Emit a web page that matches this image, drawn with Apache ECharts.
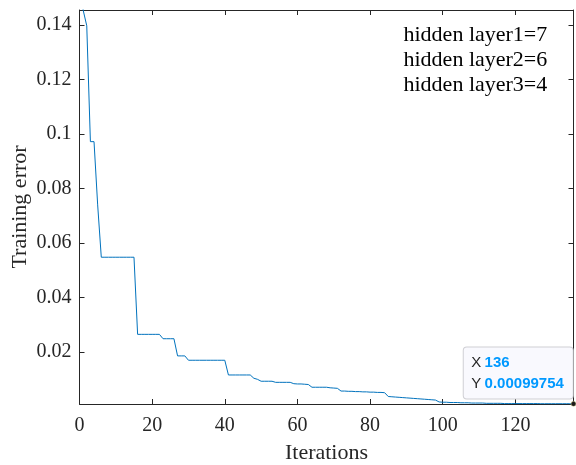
<!DOCTYPE html>
<html>
<head>
<meta charset="utf-8">
<script src="https://cdn.jsdelivr.net/npm/echarts@6/dist/echarts.min.js"></script>
<style>html,body{margin:0;padding:0;background:#fff}#c{width:576px;height:465px}</style>
</head>
<body>
<div id="c"></div>
<script>
// ---- data ----
const iterations = [];
for (let i = 0; i <= 136; i++) iterations.push(i);
const trainingError = [
  0.1600, 0.1455, 0.1397, 0.0972, 0.0972, 0.0740,
  0.0548, 0.0548, 0.0548, 0.0548, 0.0548, 0.0548, 0.0548, 0.0548, 0.0548, 0.0548,
  0.0265, 0.0265, 0.0265, 0.0265, 0.0265, 0.0265, 0.0265,
  0.0249, 0.0249, 0.0249, 0.0249,
  0.0186, 0.0186, 0.0186,
  0.0170, 0.0170, 0.0170, 0.0170, 0.0170, 0.0170, 0.0170, 0.0170, 0.0170, 0.0170, 0.0170,
  0.0116, 0.0116, 0.0116, 0.0116, 0.0116, 0.0116, 0.0116,
  0.0104, 0.0100,
  0.0093, 0.0093, 0.0093, 0.0093,
  0.0089, 0.0089, 0.0089, 0.0089, 0.0089,
  0.0084, 0.0083, 0.0083, 0.0082, 0.0081,
  0.0071, 0.0071, 0.0071, 0.0071, 0.0071,
  0.0069, 0.0068, 0.0067,
  0.0057, 0.0057, 0.0056, 0.0056, 0.0055, 0.0055, 0.0054, 0.0054, 0.0053, 0.0053, 0.0052, 0.0052, 0.0051,
  0.0037,
  0.0036, 0.0035, 0.0034, 0.0033, 0.0032, 0.0031, 0.0030, 0.0029, 0.0028, 0.0027, 0.0026, 0.0025, 0.0024,
  0.0017,
  0.0016, 0.0016, 0.0015, 0.0015, 0.0015,
  0.0014, 0.0014, 0.0014, 0.0013, 0.0013, 0.0013,
  0.0013, 0.0012, 0.0012, 0.0012, 0.0012, 0.0012, 0.0011, 0.0011, 0.0011, 0.0011,
  0.0011, 0.0011, 0.0011, 0.0011, 0.0011, 0.0011,
  0.00105, 0.00105, 0.00105, 0.00105, 0.00105, 0.00105, 0.00105, 0.00105, 0.00105,
  0.00099754
];
const xTicks = [0, 20, 40, 60, 80, 100, 120];
const yTicks = [0.02, 0.04, 0.06, 0.08, 0.1, 0.12, 0.14];
const annotationLines = ['hidden layer1=7', 'hidden layer2=6', 'hidden layer3=4'];
const tipX = 136;
const tipY = 0.00099754;

// ---- chart ----
const AX = '#262626';
const SERIF = '"Liberation Serif", "Times New Roman", serif';
const SANS = '"Liberation Sans", Arial, sans-serif';
const chart = echarts.init(document.getElementById('c'), null, {renderer: 'canvas'});

const baseX = {
  type: 'value', min: 0, max: 136,
  axisLine: {show: true, onZero: false, lineStyle: {color: AX, width: 1}},
  axisTick: {show: true, inside: true, length: 5, lineStyle: {color: AX}, customValues: xTicks},
  splitLine: {show: false}
};
const baseY = {
  type: 'value', min: 0.00095, max: 0.1455,
  axisLine: {show: true, onZero: false, lineStyle: {color: AX, width: 1}},
  axisTick: {show: true, inside: true, length: 5, lineStyle: {color: AX}, customValues: yTicks},
  splitLine: {show: false}
};

chart.setOption({
  animation: false,
  backgroundColor: '#fff',
  grid: {left: 79.5, right: 2.5, top: 10, bottom: 61, containLabel: false, outerBoundsMode: 'none'},
  xAxis: [
    Object.assign({}, baseX, {
      position: 'bottom',
      name: 'Iterations', nameLocation: 'middle', nameGap: 38, nameMoveOverlap: false,
      nameTextStyle: {fontFamily: SERIF, fontSize: 22, color: AX},
      axisLabel: {show: true, customValues: xTicks, margin: 12, fontFamily: SERIF, fontSize: 20, color: AX}
    }),
    Object.assign({}, baseX, {position: 'top', axisLabel: {show: false}})
  ],
  yAxis: [
    Object.assign({}, baseY, {
      position: 'left',
      name: 'Training error', nameLocation: 'middle', nameGap: 48, nameMoveOverlap: false,
      nameTextStyle: {fontFamily: SERIF, fontSize: 22, color: AX},
      axisLabel: {show: true, customValues: yTicks, margin: 8, fontFamily: SERIF, fontSize: 20, color: AX,
        formatter: v => String(+v.toFixed(4))}
    }),
    Object.assign({}, baseY, {position: 'right', axisLabel: {show: false}})
  ],
  series: [{
    type: 'line',
    data: iterations.map((x, i) => [x, trainingError[i]]),
    showSymbol: false,
    clip: true,
    lineStyle: {color: '#0072BD', width: 1},
    itemStyle: {color: '#0072BD'},
    markPoint: {
      silent: true,
      symbol: 'circle',
      symbolSize: 5,
      itemStyle: {color: '#1a1a1a', borderColor: '#e8e0a0', borderWidth: 0.5},
      data: [{coord: [tipX, tipY]}],
      label: {
        show: true,
        position: [-107, -53.5],
        align: 'left',
        verticalAlign: 'top',
        width: 94,
        backgroundColor: '#f9f9fe',
        borderColor: '#cfcfd4',
        borderWidth: 1,
        borderRadius: 3,
        padding: [4, 7.5, 4, 7.5],
        formatter: '{k|X} {v|' + tipX + '}\n{k|Y} {v|' + tipY + '}',
        rich: {
          k: {fontFamily: SANS, fontSize: 15, color: '#262626', lineHeight: 21.5},
          v: {fontFamily: SANS, fontSize: 15, fontWeight: 'bold', color: '#0099ff', lineHeight: 21.5}
        }
      }
    }
  }],
  graphic: [{
    type: 'text',
    left: 403.5,
    top: 22.5,
    style: {
      text: annotationLines.join('\n'),
      font: '22px ' + SERIF,
      lineHeight: 25,
      fill: '#000'
    }
  }]
});
</script>
</body>
</html>
